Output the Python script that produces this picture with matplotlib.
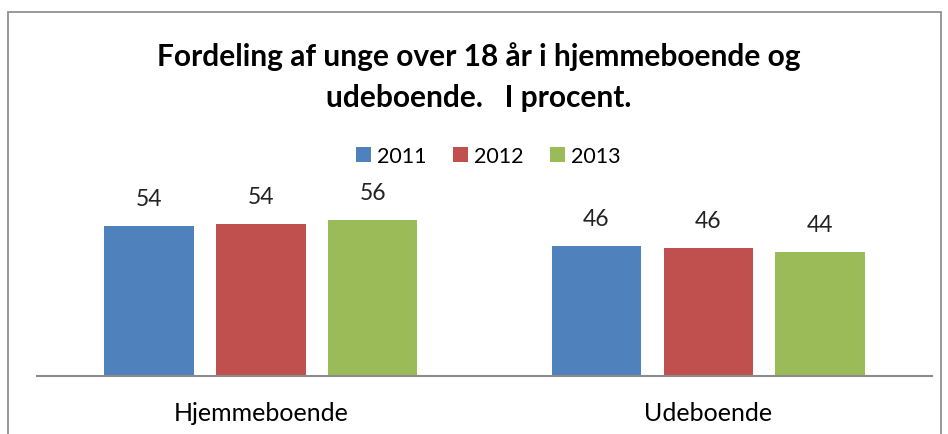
import numpy as np
import matplotlib.pyplot as plt
from matplotlib.patches import Rectangle

############### Data
categories = ['Hjemmeboende', 'Udeboende']
years = ['2011', '2012', '2013']
v2011 = [53.6, 46.4]
v2012 = [54.3, 45.7]
v2013 = [55.7, 44.3]
colors = ['#4F81BD', '#C0504D', '#9BBB59']

plt.rcParams['font.family'] = ['Lato', 'DejaVu Sans']

############### Figure
fig = plt.figure(figsize=(9.48, 4.35), dpi=100)
fig.patches.append(Rectangle((8/948, -0.1), (941-8)/948, 1.1 - 13/435,
                             transform=fig.transFigure, fill=False,
                             edgecolor='#878787', linewidth=1.2))

ax = fig.add_axes([37/948, 58/435, (932-37)/948, 168/435])
x = np.arange(len(categories))
width = 0.2
offsets = [-0.25, 0, 0.25]
for vals, off, col, yr in zip([v2011, v2012, v2013], offsets, colors, years):
    bars = ax.bar(x + off, vals, width, color=col, label=yr)
    for b, v in zip(bars, vals):
        ax.annotate(f'{v:.0f}', (b.get_x() + b.get_width()/2, v),
                    xytext=(0, 19.5), textcoords='offset points',
                    ha='center', va='center', fontsize=16.5, color='#222222')

ax.set_xlim(-0.5, 1.5)
ax.set_ylim(0, 60)
ax.set_yticks([])
ax.set_xticks(x)
ax.set_xticklabels(categories, fontsize=18)
ax.tick_params(axis='x', length=0, pad=18)
for s in ['top', 'left', 'right']:
    ax.spines[s].set_visible(False)
ax.spines['bottom'].set_color('#8C8C8C')
ax.spines['bottom'].set_linewidth(1.5)
ax.patch.set_alpha(0)

fig.text(0.505, 1 - 77/435, 'Fordeling af unge over 18 år i hjemmeboende og\nudeboende.   I procent.',
         ha='center', va='center', fontsize=21.5, fontweight='bold', linespacing=1.55)

fig.legend(loc='center', bbox_to_anchor=(0.515, 1 - 157/435), ncol=3, frameon=False,
           fontsize=15.5, handlelength=0.7, handleheight=0.7, handletextpad=0.3,
           columnspacing=1.2)

fig.savefig('out.png', dpi=100)
